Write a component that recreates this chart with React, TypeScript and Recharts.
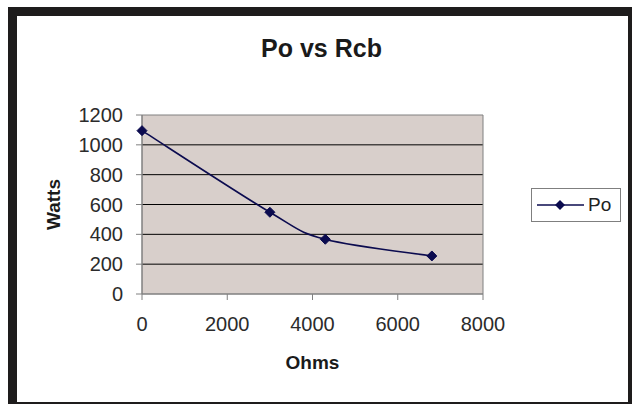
import { LineChart, Line, XAxis, YAxis, CartesianGrid, Legend, ReferenceArea, Label } from 'recharts'

const ohms = [0, 3000, 4300, 6800]
const watts = [1095, 548, 367, 255]
const xTicks = [0, 2000, 4000, 6000, 8000]
const yTicks = [0, 200, 400, 600, 800, 1000, 1200]
const gridValues = [200, 400, 600, 800, 1000]

const NAVY = '#0b0b4f'
const FONT = '"Liberation Sans", Arial, sans-serif'

// Excel style smoothed line (Catmull-Rom like bezier), written as a d3 curve factory
const excelSmooth = (context: any) => {
    let pts: number[][] = []
    return {
        areaStart() {},
        areaEnd() {},
        lineStart() { pts = [] },
        point(x: number, y: number) { pts.push([+x, +y]) },
        lineEnd() {
            if (!pts.length) return
            context.moveTo(pts[0][0], pts[0][1])
            for (let i = 0; i < pts.length - 1; i++) {
                const p0 = pts[Math.max(i - 1, 0)]
                const p1 = pts[i]
                const p2 = pts[i + 1]
                const p3 = pts[Math.min(i + 2, pts.length - 1)]
                const k = 1 / 6
                context.bezierCurveTo(
                    p1[0] + k * (p2[0] - p0[0]), p1[1] + k * (p2[1] - p0[1]),
                    p2[0] - k * (p3[0] - p1[0]), p2[1] - k * (p3[1] - p1[1]),
                    p2[0], p2[1]
                )
            }
        }
    }
}

const Diamond = (props: any) => {
    const { cx, cy } = props
    if (cx == null || cy == null) return null
    const r = 5
    return (
        <polygon
            points={`${cx},${cy - r} ${cx + r},${cy} ${cx},${cy + r} ${cx - r},${cy}`}
            fill={NAVY}
            stroke={NAVY}
        />
    )
}

const LegendBox = () => (
    <div style={{
        width: 90,
        height: 34,
        boxSizing: 'border-box',
        border: '1px solid #7f7f7f',
        background: '#fff',
        display: 'flex',
        alignItems: 'center',
        fontFamily: FONT,
        fontSize: 19,
        color: '#222'
    }}>
        <svg width={56} height={32}>
            <line x1={5} y1={16} x2={52} y2={16} stroke={NAVY} strokeWidth={1.6} />
            <polygon points="28,11 33,16 28,21 23,16" fill={NAVY} />
        </svg>
        <span>Po</span>
    </div>
)

export default function App() {
    const data = ohms.map((x, i) => ({ ohms: x, po: watts[i] }))

    return (
        <div style={{ position: 'absolute', left: 0, top: 0, width: 632, height: 404, background: '#fff', overflow: 'hidden' }}>
            {/* black frame round the picture */}
            <div style={{
                position: 'absolute',
                left: 8,
                top: 7,
                width: 624,
                height: 397,
                boxSizing: 'border-box',
                borderStyle: 'solid',
                borderColor: '#1e1c1c',
                borderWidth: '9px 4px 2px 9px'
            }} />
            <div style={{
                position: 'absolute',
                left: 0,
                width: 643,
                top: 33,
                textAlign: 'center',
                fontFamily: FONT,
                fontWeight: 'bold',
                fontSize: 25,
                lineHeight: '30px',
                color: '#1a1a1a'
            }}>
                Po vs Rcb
            </div>
            <div style={{ position: 'absolute', left: 0, top: 0 }}>
                <LineChart
                    width={632}
                    height={404}
                    data={data}
                    margin={{ top: 115, right: 59, bottom: 50, left: 62 }}
                    style={{ fontFamily: FONT }}
                >
                    <CartesianGrid
                        vertical={false}
                        horizontalValues={gridValues}
                        stroke="#000"
                        fill="#d8cfcb"
                        fillOpacity={1}
                    />
                    <ReferenceArea x1={0} x2={8000} y1={0} y2={1200} fill="none" stroke="#808080" strokeWidth={1} />
                    <XAxis
                        dataKey="ohms"
                        type="number"
                        domain={[0, 8000]}
                        ticks={xTicks}
                        height={60}
                        tickSize={6}
                        tickMargin={17}
                        stroke="#808080"
                        tick={{ fill: '#2b2b2b', fontSize: 20 }}
                    >
                        <Label value="Ohms" position="bottom" offset={2} style={{ fontWeight: 'bold', fontSize: 19, fill: '#1a1a1a' }} />
                    </XAxis>
                    <YAxis
                        type="number"
                        domain={[0, 1200]}
                        ticks={yTicks}
                        width={80}
                        tickSize={6}
                        tickMargin={13}
                        stroke="#808080"
                        tick={{ fill: '#2b2b2b', fontSize: 20 }}
                    >
                        <Label value="Watts" angle={-90} position="insideLeft" offset={-9} style={{ textAnchor: 'middle', fontWeight: 'bold', fontSize: 19, fill: '#1a1a1a' }} />
                    </YAxis>
                    <Legend
                        layout="vertical"
                        align="right"
                        verticalAlign="middle"
                        content={<LegendBox />}
                        wrapperStyle={{ right: 11, top: 188, width: 90, height: 34 }}
                    />
                    <Line
                        type={excelSmooth as any}
                        dataKey="po"
                        name="Po"
                        stroke={NAVY}
                        strokeWidth={1.6}
                        dot={<Diamond />}
                        activeDot={false}
                        isAnimationActive={false}
                    />
                </LineChart>
            </div>
        </div>
    )
}
